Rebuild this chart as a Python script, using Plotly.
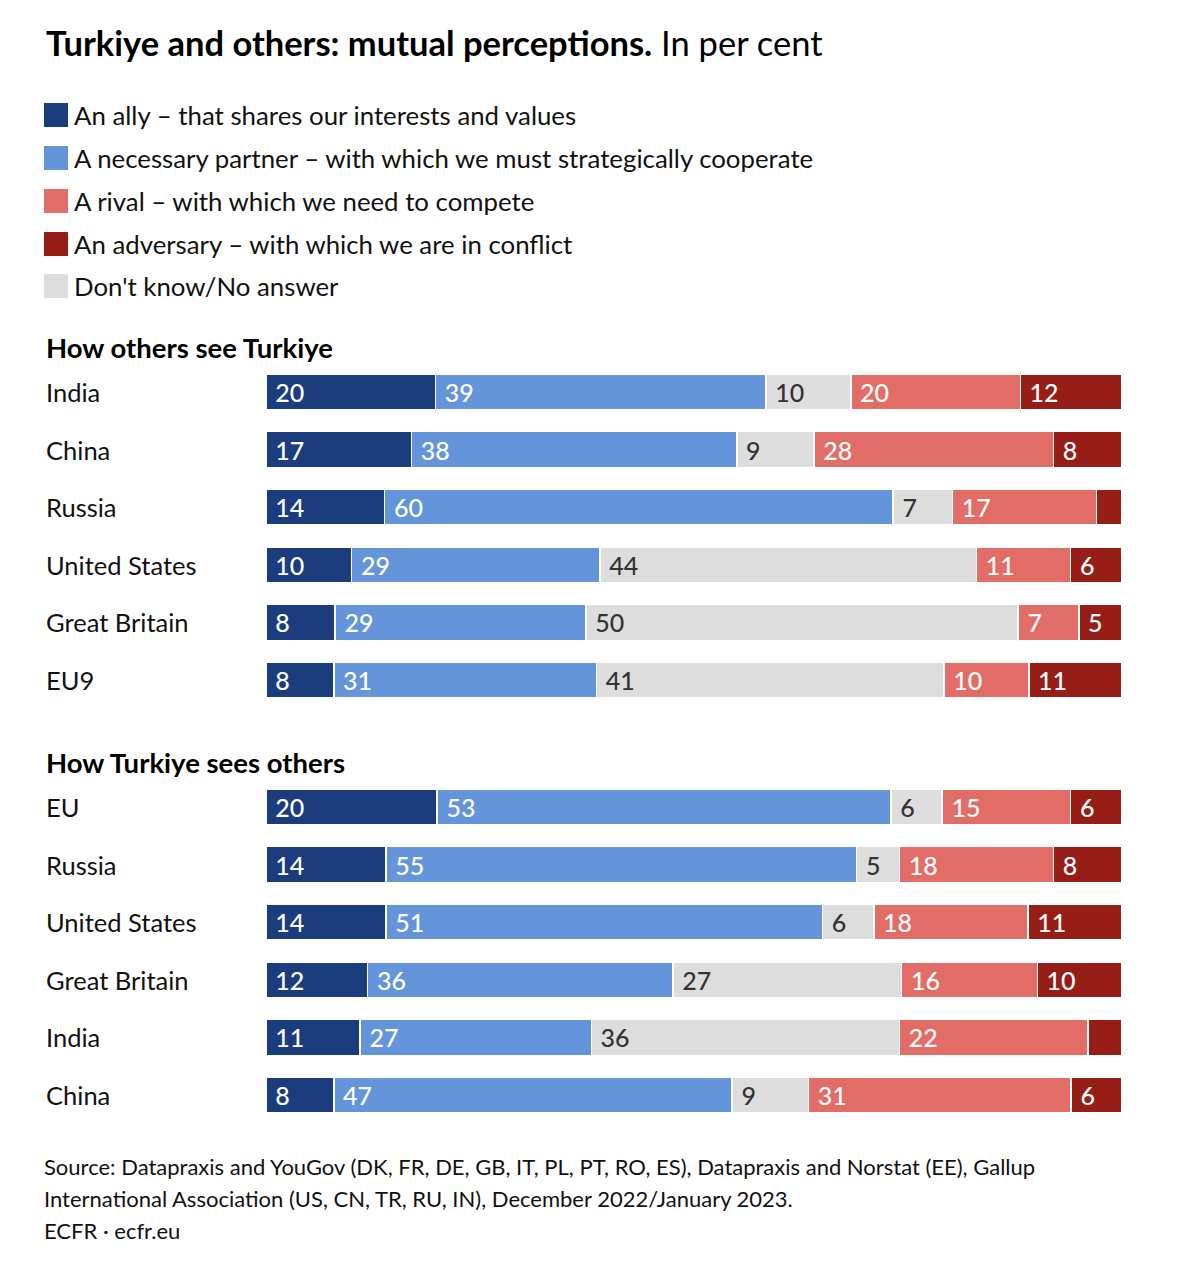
import plotly.graph_objects as go

# ---------------- data ----------------
top_countries = ["India", "China", "Russia", "United States", "Great Britain", "EU9"]
top_ally = [20, 17, 14, 10, 8, 8]
top_partner = [39, 38, 60, 29, 29, 31]
top_dk = [10, 9, 7, 44, 50, 41]
top_rival = [20, 28, 17, 11, 7, 10]
top_adversary = [12, 8, 3, 6, 5, 11]

bot_countries = ["EU", "Russia", "United States", "Great Britain", "India", "China"]
bot_ally = [20, 14, 14, 12, 11, 8]
bot_partner = [53, 55, 51, 36, 27, 47]
bot_dk = [6, 5, 6, 27, 36, 9]
bot_rival = [15, 18, 18, 16, 22, 31]
bot_adversary = [6, 8, 11, 10, 4, 6]

series_names = [
    "An ally – that shares our interests and values",
    "A necessary partner – with which we must strategically cooperate",
    "A rival – with which we need to compete",
    "An adversary – with which we are in conflict",
    "Don't know/No answer",
]
colors = {
    "ally": "#1b3d7d",
    "partner": "#6495db",
    "dk": "#dddddd",
    "rival": "#e26d67",
    "adversary": "#961e16",
}
legend_keys = ["ally", "partner", "rival", "adversary", "dk"]

title_bold = "Turkiye and others: mutual perceptions."
title_rest = " In per cent"
section_top = "How others see Turkiye"
section_bot = "How Turkiye sees others"
source_lines = [
    "Source: Datapraxis and YouGov (DK, FR, DE, GB, IT, PL, PT, RO, ES), Datapraxis and Norstat (EE), Gallup",
    "International Association (US, CN, TR, RU, IN), December 2022/January 2023.",
    "ECFR · ecfr.eu",
]

# ---------------- layout constants ----------------
W, H = 1178, 1262
OFF = 8  # page body margin
FONT = "Lato"


def py(px):
    return 1 - (px - OFF) / H


def px_x(px):
    return (px - OFF) / W


fig = go.Figure()

order = [("ally", "white"), ("partner", "white"), ("dk", "#333333"),
         ("rival", "white"), ("adversary", "white")]

panels = [
    (top_countries, {"ally": top_ally, "partner": top_partner, "dk": top_dk,
                     "rival": top_rival, "adversary": top_adversary}, "x", "y"),
    (bot_countries, {"ally": bot_ally, "partner": bot_partner, "dk": bot_dk,
                     "rival": bot_rival, "adversary": bot_adversary}, "x2", "y2"),
]

for cats, vals, xa, ya in panels:
    for key, tcol in order:
        v = vals[key]
        fig.add_trace(go.Bar(
            y=cats, x=v, orientation="h",
            xaxis=xa, yaxis=ya,
            marker=dict(color=colors[key], line=dict(color="white", width=1.5)),
            text=["\u00a0" + str(t) if t >= 5 else "" for t in v],
            textposition="inside",
            insidetextanchor="start",
            textangle=0,
            textfont=dict(family=FONT, size=25, color=tcol, weight=500),
            constraintext="none",
            width=0.62,
            showlegend=False,
            hoverinfo="skip",
        ))

x0, x1 = px_x(266), px_x(1122)
fig.update_layout(
    width=W, height=H,
    margin=dict(l=0, r=0, t=0, b=0),
    paper_bgcolor="white", plot_bgcolor="white",
    barmode="stack", barnorm="percent",
    font=dict(family=FONT, color="#111111"),
    xaxis=dict(domain=[x0, x1], range=[0, 100], visible=False, fixedrange=True),
    xaxis2=dict(domain=[x0, x1], range=[0, 100], visible=False, fixedrange=True),
    yaxis=dict(domain=[py(363.2 + 345.6), py(363.2)], autorange="reversed",
               showticklabels=False, showgrid=False, zeroline=False),
    yaxis2=dict(domain=[py(778.2 + 345.6), py(778.2)], autorange="reversed",
                showticklabels=False, showgrid=False, zeroline=False),
)

ann = []
# title
ann.append(dict(xref="paper", yref="paper", x=px_x(44), y=py(42), xanchor="left", yanchor="middle",
                text=f"<b>{title_bold}</b><span style='font-weight:400'>{title_rest}</span>",
                showarrow=False,
                font=dict(family=FONT, size=34.5, color="#000000", weight=900)))

# legend
shapes = []
leg_y = [115, 158, 201, 244, 286]
for k, yy in zip(legend_keys, leg_y):
    idx = {"ally": 0, "partner": 1, "rival": 2, "adversary": 3, "dk": 4}[k]
    shapes.append(dict(type="rect", xref="paper", yref="paper",
                       x0=px_x(44), x1=px_x(68), y0=py(yy + 12), y1=py(yy - 12),
                       fillcolor=colors[k], line=dict(width=0)))
    ann.append(dict(xref="paper", yref="paper", x=px_x(72), y=py(yy), xanchor="left", yanchor="middle",
                    text=series_names[idx], showarrow=False,
                    font=dict(family=FONT, size=25.8, color="#111111")))

# section headings
for txt, yy in [(section_top, 347), (section_bot, 762)]:
    ann.append(dict(xref="paper", yref="paper", x=px_x(44), y=py(yy), xanchor="left", yanchor="middle",
                    text=f"<b>{txt}</b>", showarrow=False,
                    font=dict(family=FONT, size=27.5, color="#000000", weight=900)))

# category labels
for cats, _, xa, ya in panels:
    for c in cats:
        ann.append(dict(xref="paper", yref=ya, x=px_x(44), y=c, xanchor="left", yanchor="middle",
                        text=c, showarrow=False,
                        font=dict(family=FONT, size=25.5, color="#111111")))

# source
for i, line in enumerate(source_lines):
    ann.append(dict(xref="paper", yref="paper", x=px_x(42), y=py(1166 + 32 * i), xanchor="left",
                    yanchor="middle", text=line, showarrow=False,
                    font=dict(family=FONT, size=22, color="#111111")))

fig.update_layout(annotations=ann, shapes=shapes)

fig.write_html("out.html")
